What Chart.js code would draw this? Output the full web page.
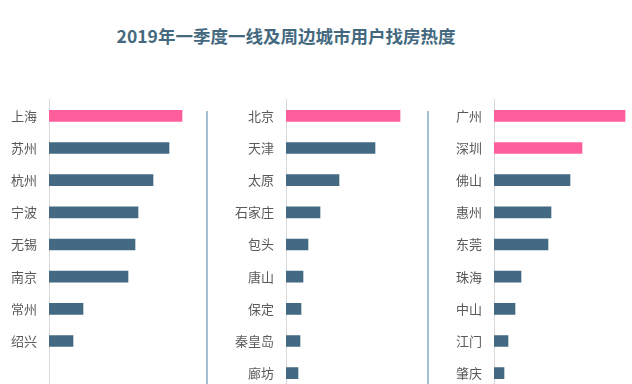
<!DOCTYPE html>
<html>
<head>
<meta charset="utf-8">
<script src="https://cdn.jsdelivr.net/npm/chart.js@4"></script>
<style>
  html, body { margin: 0; padding: 0; background: #fff; overflow: hidden; }
  body { width: 632px; height: 384px; position: relative; }
  .title {
    position: absolute; left: 0; top: 23px; width: 572px; text-align: center;
    font: bold 17.5px "Noto Sans CJK SC", sans-serif; color: #44697f;
  }
  canvas { position: absolute; top: 80px; display: block; }
  .sep { position: absolute; top: 111px; width: 2px; height: 280px; background: #a3bfd3; }
</style>
</head>
<body>
<div class="title">2019年一季度一线及周边城市用户找房热度</div>
<div class="sep" style="left:206px"></div>
<div class="sep" style="left:427px"></div>
<canvas id="c1" width="189" height="329" style="left:0px"></canvas>
<canvas id="c2" width="216" height="329" style="left:210px"></canvas>
<canvas id="c3" width="204" height="329" style="left:430px"></canvas>
<script>
// 长三角
const cities1 = ['上海', '苏州', '杭州', '宁波', '无锡', '南京', '常州', '绍兴'];
const heat1 = [133, 120, 104, 89, 86, 79, 34, 24];
// 京津冀
const cities2 = ['北京', '天津', '太原', '石家庄', '包头', '唐山', '保定', '秦皇岛', '廊坊'];
const heat2 = [114, 89, 53, 34, 22, 17, 15, 14, 12];
// 珠三角
const cities3 = ['广州', '深圳', '佛山', '惠州', '东莞', '珠海', '中山', '江门', '肇庆'];
const heat3 = [131, 88, 76, 57, 54, 27, 21, 14, 10];
// 一线城市高亮
const firstTier = ['上海', '北京', '广州', '深圳'];

const PINK = '#ff5e9c';
const BLUE = '#436a82';

function makeChart(id, cities, heat, axisWidth) {
    // 每组都按 9 行排布，不足的补空行
    const labels = cities.slice();
    const values = heat.slice();
    while (labels.length < 9) { labels.push(''); values.push(null); }

    new Chart(document.getElementById(id), {
        type: 'bar',
        data: {
            labels: labels,
            datasets: [{
                data: values,
                backgroundColor: labels.map(c => firstTier.includes(c) ? PINK : BLUE),
                barThickness: 11
            }]
        },
        options: {
            indexAxis: 'y',
            responsive: false,
            animation: false,
            layout: { padding: 0 },
            scales: {
                x: { display: false, min: 0, max: 140 },
                y: {
                    grid: { display: false, drawTicks: false },
                    border: { display: true, color: '#d9d9d9', width: 1 },
                    ticks: {
                        padding: 12,
                        color: '#595959',
                        font: { family: '"Noto Sans CJK SC", sans-serif', size: 13 }
                    },
                    afterFit: function (scale) { scale.width = axisWidth; }
                }
            },
            plugins: {
                legend: { display: false },
                tooltip: { enabled: false }
            }
        }
    });
}

makeChart('c1', cities1, heat1, 49);
makeChart('c2', cities2, heat2, 76);
makeChart('c3', cities3, heat3, 64);
</script>
</body>
</html>
